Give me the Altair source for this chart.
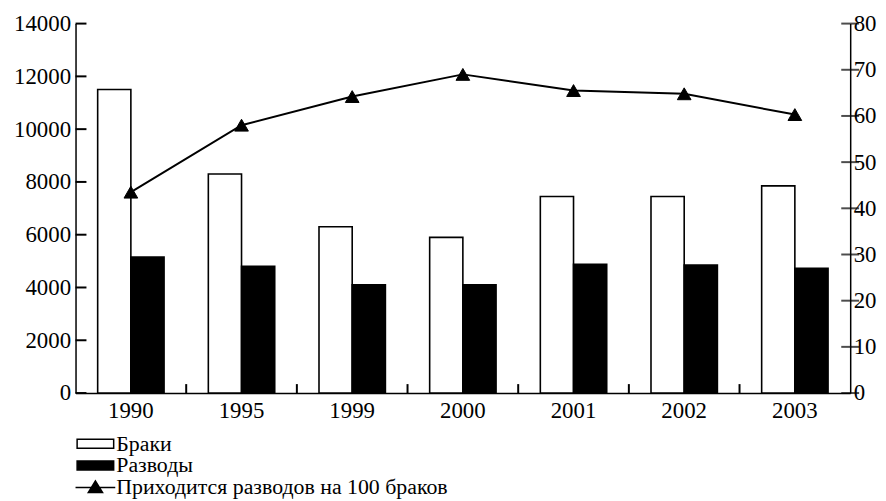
import altair as alt
import pandas as pd

years = ["1990", "1995", "1999", "2000", "2001", "2002", "2003"]
marriages = [11500, 8300, 6300, 5900, 7450, 7450, 7850]
divorces = [5150, 4800, 4100, 4100, 4880, 4850, 4730]
ratio = [43.5, 58, 64.2, 69, 65.5, 64.8, 60.3]

series_names = ["Браки", "Разводы"]
line_name = "Приходится разводов на 100 браков"
left_ticks = [0, 2000, 4000, 6000, 8000, 10000, 12000, 14000]
right_ticks = [0, 10, 20, 30, 40, 50, 60, 70, 80]

FONT = "Liberation Serif"
W, H = 780, 372
STEP = W / len(years)

bars_df = pd.DataFrame(
    {"year": years * 2,
     "series": [series_names[0]] * len(years) + [series_names[1]] * len(years),
     "value": marriages + divorces}
)
ratio_df = pd.DataFrame({"year": years, "ratio": ratio, "label": [line_name] * len(years)})
lt_df = pd.DataFrame({"lt": left_ticks})
rt_df = pd.DataFrame({"rt": right_ticks})
xt_df = pd.DataFrame({"xt": years[1:]})

xscale = alt.Scale(domain=years, paddingInner=0.4, paddingOuter=0.2)
xaxis = alt.Axis(title=None, labelAngle=0, ticks=False, labelPadding=7,
                 domainColor="black", domainWidth=1.5)
yl_scale = alt.Scale(domain=[0, 14000], nice=False)
yr_scale = alt.Scale(domain=[0, 80], nice=False)
yl_axis = alt.Axis(title=None, orient="left", values=left_ticks, ticks=False, grid=False,
                   format="d", labelPadding=5, domainColor="black", domainWidth=1.5)
yr_axis = alt.Axis(title=None, orient="right", values=right_ticks, ticks=False, grid=False,
                   labelPadding=3, domainColor="black", domainWidth=1.5)

rect_path = "M-2.3,-0.56H2.3V0.56H-2.3Z"
line_path = "M-2.5,0H2.5M-0.9,0.65L0,-0.8L0.9,0.65Z"

legend_common = dict(title=None, orient="none", direction="vertical",
                     labelFont=FONT, labelFontSize=22, labelColor="black", labelLimit=0,
                     symbolSize=256, symbolStrokeColor="black", symbolStrokeWidth=1.5,
                     labelOffset=10, rowPadding=0, padding=0, legendX=9)

bars = alt.Chart(bars_df).mark_bar(stroke="black", strokeWidth=1.6).encode(
    x=alt.X("year:N", scale=xscale, sort=years, axis=xaxis),
    xOffset=alt.XOffset("series:N", sort=series_names, scale=alt.Scale(paddingInner=0)),
    y=alt.Y("value:Q", scale=yl_scale, axis=yl_axis),
    fill=alt.Fill("series:N", scale=alt.Scale(domain=series_names, range=["white", "black"]),
                  legend=alt.Legend(symbolType=rect_path, legendY=412, **legend_common)),
)

lticks = alt.Chart(lt_df).mark_rule(color="black", strokeWidth=2).encode(
    x=alt.value(0), x2=alt.value(11),
    y=alt.Y("lt:Q", scale=yl_scale, axis=yl_axis),
)

xticks = alt.Chart(xt_df).mark_rule(color="black", strokeWidth=2,
                                    xOffset=-0.2 * STEP).encode(
    x=alt.X("xt:N", scale=xscale, sort=years, bandPosition=0, axis=xaxis),
    y=alt.value(H), y2=alt.value(H - 9),
)

left_layer = alt.layer(bars, lticks, xticks)

line = alt.Chart(ratio_df).mark_line(color="black", strokeWidth=2).encode(
    x=alt.X("year:N", scale=xscale, sort=years, axis=xaxis),
    y=alt.Y("ratio:Q", scale=yr_scale, axis=yr_axis),
)

points = alt.Chart(ratio_df).mark_point(shape="triangle-up", filled=True, size=190,
                                        stroke="black", strokeWidth=1, opacity=1).encode(
    x=alt.X("year:N", scale=xscale, sort=years, axis=xaxis),
    y=alt.Y("ratio:Q", scale=yr_scale, axis=yr_axis),
    fill=alt.Fill("label:N", scale=alt.Scale(domain=[line_name], range=["black"]),
                  legend=alt.Legend(symbolType=line_path, legendY=456, **legend_common)),
)

rticks = alt.Chart(rt_df).mark_tick(color="black", thickness=2, size=18,
                                    orient="horizontal").encode(
    x=alt.value(W),
    y=alt.Y("rt:Q", scale=yr_scale, axis=yr_axis),
)

right_layer = alt.layer(line, points, rticks)

chart = alt.layer(left_layer, right_layer).resolve_scale(
    y="independent", fill="independent"
).resolve_legend(fill="independent").properties(
    width=W, height=H,
    padding={"left": 5, "top": 3, "right": 2, "bottom": 0},
    background="white",
).configure_view(stroke=None).configure_axis(
    labelFont=FONT, labelFontSize=23, labelColor="black"
)

chart.save("out.html", embed_options={"renderer": "svg", "actions": False})
